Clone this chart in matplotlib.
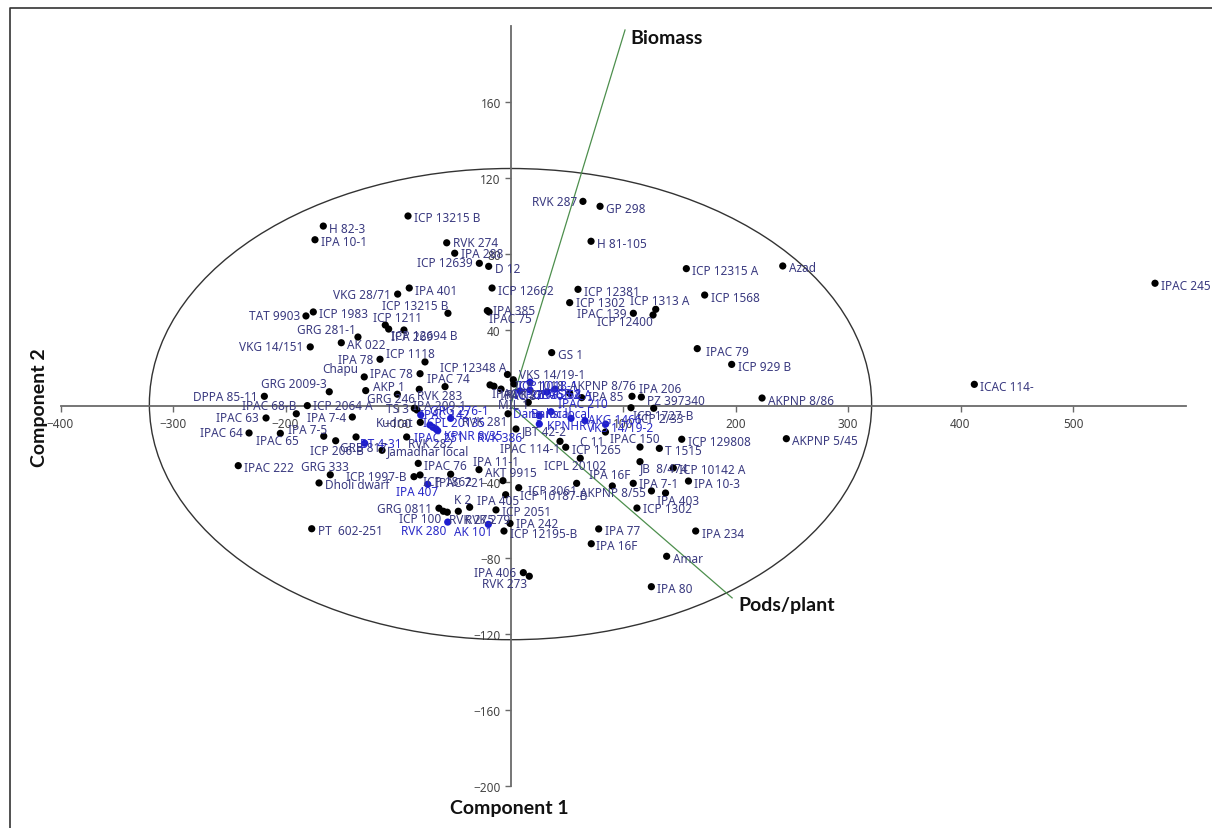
#!/usr/bin/env python3

import collections

import matplotlib
matplotlib.use('Agg')
import matplotlib.pyplot as plt
from matplotlib.lines import Line2D
from matplotlib.patches import Ellipse

names = ['H 82-3', 'IPA 10-1', 'ICP 13215 B', 'RVK 274', 'IPA 288', 'ICP 12639', 'D 12', 'ICP 12662',
         'IPA 401', 'VKG 28/71', 'ICP 13215 B', 'IPA 385', 'IPAC 75', 'TAT 9903', 'ICP 1983', 'ICP 1211',
         'IPA 269', 'ICP 12694 B', 'GRG 281-1', 'AK 022', 'VKG 14/151', 'IPA 78', 'ICP 1118', 'Chapu',
         'IPAC 78', 'ICP 12348 A', 'IPAC 74', 'GRG 2009-3', 'AKP 1', 'GRG 246', 'RVK 283', 'DPPA 85-11',
         'IPAC 68-B', 'ICP 2064 A', 'IPAC 63', 'IPAC 64', 'IPAC 65', 'IPA 7-4', 'IPA 7-5', 'ICP 206-B',
         'GRB 817', 'BT 4-31', 'Jamadhar local', 'RVK 282', 'IPAC 251', 'KPNR 8/35', 'RVK 386', 'Kudrat',
         'ICPL 20135', 'RVK 281', 'TS 3', 'IPA 209-1', 'GRG 276-1', 'IPAC 142', 'IPAC 222', 'GRG 333',
         'Dholi dwarf', 'IPAC 76', 'ICP 1997-B', 'ICP 1862', 'IPA 407', 'IPAC 721', 'IPA 11-1', 'AKT 9915',
         'GRG 0811', 'ICP 100', 'RVK 275', 'RVK 280', 'K 2', 'IPA 405', 'ICP 2051', 'RVK 279',
         'AK 101', 'IPA 242', 'ICP 12195-B', 'PT  602-251', 'IPA 406', 'RVK 273', 'IPA 77', 'IPA 16F',
         'IPA 16F', 'Amar', 'IPA 80', 'IPA 234', 'ICP 1302', 'IPA 403', 'AKPNP 8/55', 'IPA 7-1',
         'IPA 10-3', 'ICP 3061', 'ICP 10187-B', 'ICPL 20102', 'ICP 1265', 'IPAC 114-1', 'C 11', 'IPAC 150',
         'T 1515', 'ICP 129808', 'JB  8/474', 'ICP 10142 A', 'JBT 42-2', 'ICP 1727-B', 'PZ 397340', 'IPA 206',
         'ICP 2/33', 'IPA 85', 'AKPNP 8/76', 'AKPNP 8/86', 'AKPNP 5/45', 'VKS 14/19-1', 'IPAC 210', 'ICP 1018',
         'IPAC 13', 'IPAC 87', 'RVK 26', 'GRG 262 A', 'ICP 2376', 'IPAC 52', 'ICP 1018-1', 'TSR 8',
         'MIL 1', 'Dang local', 'KPNHR 1', 'Bansi local', 'AKG 1466', 'VKS 14/19-2', 'RVK 287', 'GP 298',
         'H 81-105', 'ICP 12315 A', 'Azad', 'ICP 12381', 'ICP 1302', 'ICP 1313 A', 'ICP 12400', 'IPAC 139',
         'ICP 1568', 'GS 1', 'IPAC 79', 'ICP 929 B', 'ICAC 114-', 'IPAC 245']

comp1 = [-166.4, -173.8, -91.1, -56.7, -49.6, -27.7, -19.4, -16.4,
         -90.0, -100.3, -55.6, -20.6, -19.1, -181.8, -175.3, -111.3,
         -108.3, -94.7, -135.6, -150.4, -178.0, -116.0, -76.0, -130.0,
         -80.4, -2.7, -58.2, -161.1, -128.7, -100.6, -81.1, -218.8,
         -190.4, -180.6, -217.3, -232.4, -204.6, -140.6, -166.0, -155.4,
         -137.3, -129.6, -114.2, -92.3, -64.7, -68.9, -66.2, -80.2,
         -71.6, -2.2, -85.5, -83.1, -53.2, -79.8, -242.0, -160.2,
         -170.2, -82.0, -85.8, -80.4, -73.6, -53.2, -28.0, -6.7,
         -63.6, -59.7, -56.2, -55.8, -36.3, -4.3, -12.9, -46.4,
         -19.7, -0.4, -5.8, -176.7, 11.4, 16.7, 78.4, 90.5,
         71.8, 138.8, 125.2, 164.6, 112.4, 137.8, 125.3, 109.1,
         158.2, 58.8, 7.3, 62.0, 49.1, 44.0, 84.4, 115.1,
         132.3, 152.2, 115.1, 144.7, 4.9, 107.1, 127.3, 116.3,
         108.0, 63.3, 52.6, 223.6, 245.2, 3.1, 36.0, 2.5,
         -18.2, -14.7, -8.4, 17.3, 8.4, 32.4, 17.3, 39.6,
         15.8, 25.6, 25.6, 53.8, 66.2, 84.6, 64.4, 79.6,
         71.6, 156.3, 242.0, 60.0, 52.6, 129.1, 126.7, 109.2,
         172.6, 36.6, 166.0, 196.6, 412.3, 572.9]

comp2 = [94.7, 87.5, 100.0, 85.9, 80.4, 75.1, 73.5, 62.1,
         62.1, 58.9, 48.8, 50.2, 49.5, 47.4, 49.5, 42.6,
         40.5, 40.0, 36.3, 33.3, 31.1, 24.6, 23.2, 15.3,
         17.0, 16.6, 10.2, 7.5, 8.1, 6.2, 8.8, 5.1,
         -4.1, 0.2, -6.3, -14.2, -14.4, -5.8, -15.9, -18.3,
         -16.3, -19.6, -23.3, -16.3, -13.0, -11.2, -12.1, -8.6,
         -10.0, -4.1, -1.2, -2.1, -6.5, -4.7, -31.4, -36.2,
         -40.5, -30.2, -37.2, -36.3, -41.2, -35.9, -33.5, -39.3,
         -53.8, -55.4, -55.9, -61.1, -53.3, -46.7, -54.7, -55.4,
         -62.3, -61.8, -65.8, -64.6, -87.7, -89.6, -64.7, -42.1,
         -72.5, -79.1, -95.1, -65.8, -53.7, -45.8, -44.7, -40.7,
         -39.5, -40.7, -43.0, -27.5, -21.7, -18.6, -13.7, -21.6,
         -22.3, -17.5, -29.3, -32.6, -12.1, -0.9, -1.2, 4.7,
         5.1, 4.4, 6.7, 4.2, -17.2, 11.6, -3.0, 13.8,
         11.1, 10.4, 8.9, 8.4, 7.9, 7.4, 12.6, 8.9,
         1.9, -5.1, -9.5, -6.5, -7.7, -9.5, 107.7, 105.1,
         86.7, 72.3, 73.7, 61.4, 54.4, 50.9, 47.9, 48.8,
         58.4, 28.1, 30.2, 21.9, 11.4, 64.6]

# genotypes picked out in the bright blue of the selection
blue_names = ['IPAC 251', 'KPNR 8/35', 'RVK 386', 'ICPL 20135', 'GRG 276-1', 'IPAC 142', 'IPA 407', 'RVK 280',
              'AK 101', 'GRG 262 A', 'ICP 2376', 'IPAC 52', 'ICP 1018-1', 'TSR 8', 'IPAC 210', 'Dang local',
              'KPNHR 1', 'Bansi local', 'AKG 1466', 'VKS 14/19-2', 'BT 4-31']

# loading vectors, drawn from the origin
loading_names = ['Biomass', 'Pods/plant']
loading_c1 = [101.8, 197.0]
loading_c2 = [197.9, -101.0]

x_ticks = [-400, -300, -200, -100, 100, 200, 300, 400, 500]
y_ticks = [-200, -160, -120, -80, -40, 40, 80, 120, 160]

# label placement in pixels from the dot: dx, dy, side of the text anchor
DEFAULT_PLACE = (6, -2, 'left')
PLACES = {
    'ICP 12639': (-7, 1, 'right'), 'VKG 28/71': (-7, 0, 'right'), 'ICP 13215 B#2': (0, 8, 'right'),
    'TAT 9903': (-6, 0, 'right'), 'ICP 1211': (-12, 8, 'left'), 'IPA 269': (2, -7, 'left'),
    'ICP 12694 B': (-13, -6, 'left'), 'GRG 281-1': (-2, 8, 'right'), 'VKG 14/151': (-7, 0, 'right'),
    'IPA 78': (-7, 0, 'right'), 'ICP 1118': (-39, 8, 'left'), 'Chapu': (-6, 8, 'right'),
    'IPAC 78': (-7, 0, 'right'), 'ICP 12348 A': (-1, 7, 'right'), 'IPAC 74': (-18, 8, 'left'),
    'GRG 2009-3': (-3, 8, 'right'), 'AKP 1': (7, 4, 'left'), 'GRG 246': (-30, -4, 'left'),
    'RVK 283': (-2, -6, 'left'), 'DPPA 85-11': (-7, 0, 'right'), 'IPAC 68-B': (0, 8, 'right'),
    'ICP 2064 A': (6, 0, 'left'), 'IPAC 63': (-7, 0, 'right'), 'IPAC 64': (-6, 0, 'right'),
    'IPAC 65': (-24, -7, 'left'), 'IPA 7-4': (-6, 0, 'right'), 'IPA 7-5': (-36, 7, 'left'),
    'ICP 206-B': (-26, -10, 'left'), 'GRB 817': (-16, -11, 'left'), 'BT 4-31': (-5, 0, 'left'),
    'Jamadhar local': (5, 0, 'left'), 'RVK 282': (1, -7, 'left'), 'IPAC 251': (-24, -7, 'left'),
    'KPNR 8/35': (11, -8, 'left'), 'RVK 386': (41, -9, 'left'), 'Kudrat': (-7, 0, 'right'),
    'ICPL 20135': (-7, 2, 'left'), 'RVK 281': (-1, -8, 'right'), 'TS 3': (-5, 0, 'right'),
    'IPA 209-1': (-4, 4, 'left'), 'GRG 276-1': (-21, 8, 'left'), 'IPAC 142': (-1, 0, 'left'),
    'GRG 333': (-29, 8, 'left'),
    'ICP 1997-B': (-7, 0, 'right'), 'ICP 1862': (3, -7, 'left'), 'IPA 407': (-32, -7, 'left'),
    'IPAC 721': (-16, -8, 'left'), 'IPA 11-1': (-6, 8, 'left'), 'AKT 9915': (-18, 8, 'left'),
    'GRG 0811': (-7, 0, 'right'), 'ICP 100': (-2, -7, 'right'), 'RVK 275': (2, -7, 'left'),
    'RVK 280': (-1, -8, 'right'), 'K 2': (2, 8, 'right'), 'IPA 405': (-29, -6, 'left'),
    'RVK 279': (7, -8, 'left'), 'AK 101': (4, -7, 'right'), 'IPA 242': (6, 0, 'left'),
    'IPA 406': (-7, 0, 'right'), 'RVK 273': (-2, -7, 'right'), 'IPA 16F': (-23, 11, 'left'),
    'IPA 403': (-9, -7, 'left'), 'AKPNP 8/55': (-6, -2, 'right'), 'IPA 7-1': (6, 0, 'left'),
    'ICP 3061': (0, -7, 'right'), 'ICP 10187-B': (1, -8, 'left'), 'ICPL 20102': (-36, -7, 'left'),
    'IPAC 114-1': (0, -7, 'right'), 'C 11': (-25, -9, 'left'), 'IPAC 150': (-30, 9, 'left'),
    'JB  8/474': (0, -6, 'left'), 'ICP 1727-B': (2, -8, 'left'), 'PZ 397340': (-7, 8, 'left'),
    'IPA 206': (-2, 9, 'left'), 'ICP 2/33': (5, -22, 'left'), 'IPA 85': (6, 1, 'left'),
    'AKPNP 8/76': (0, 8, 'left'), 'VKS 14/19-1': (5, 9, 'left'), 'IPAC 210': (7, 8, 'left'),
    'ICP 1018': (2, -6, 'left'), 'IPAC 13': (2, -9, 'left'), 'IPAC 87': (6, -9, 'left'),
    'RVK 26': (5, -5, 'left'), 'GRG 262 A': (3, -4, 'left'), 'ICP 2376': (-6, -4, 'left'),
    'IPAC 52': (-10, -3, 'left'), 'ICP 1018-1': (-12, -3, 'left'), 'TSR 8': (-4, -4, 'left'),
    'MIL 1': (-30, -2, 'left'), 'Dang local': (-26, 2, 'left'), 'KPNHR 1': (8, -1, 'left'),
    'Bansi local': (-40, 5, 'left'), 'AKG 1466': (3, 1, 'left'), 'VKS 14/19-2': (-19, -3, 'left'),
    'RVK 287': (-6, 0, 'right'), 'ICP 1302': (6, 0, 'left'), 'ICP 1313 A': (-26, 9, 'left'),
    'ICP 12400': (0, -7, 'right'), 'IPAC 139': (-7, 0, 'right'), 'IPAC 79': (9, -3, 'left'),
    'RVK 274': (6, 0, 'left'), 'IPA 288': (6, 0, 'left'), 'IPA 385': (6, 0, 'left'),
    'IPAC 75': (0, -7, 'left'), 'IPA 16F#2': (5, -2, 'left'), 'ICP 1302#2': (6, 0, 'left'),
}

INK = '#3a3a80'
BRIGHT = '#2a2ac8'


def main():

    plt.rcParams['font.family'] = ['Noto Sans', 'DejaVu Sans']

    fig = plt.figure(figsize=(12.12, 8.29), dpi=100, facecolor='white')
    ax = fig.add_axes([0, 0, 1, 1])

    # 1.125 px per unit across, 1.9 px per unit up, origin at (510.5, 407)
    ax.set_xlim(-510.5 / 1.125, (1212 - 510.5) / 1.125)
    ax.set_ylim(-(829 - 407) / 1.9, 407 / 1.9)
    ax.patch.set_visible(False)

    for side in ['top', 'right']:
        ax.spines[side].set_visible(False)
    ax.spines['left'].set_position(('data', 0))
    ax.spines['bottom'].set_position(('data', 0))
    ax.spines['left'].set_bounds(-200, 200)
    ax.spines['bottom'].set_bounds(-400, 600)
    for side in ['left', 'bottom']:
        ax.spines[side].set_color('#6a6a6a')
        ax.spines[side].set_linewidth(1.3)

    ax.set_xticks(x_ticks)
    ax.set_yticks(y_ticks)
    ax.tick_params(axis='both', length=4, width=1, color='#6a6a6a',
                   labelsize=8.5, labelcolor='#444444')
    ax.tick_params(axis='x', pad=4)
    ax.tick_params(axis='y', pad=3)

    ax.add_patch(Ellipse((0, 1), 642, 248, fill=False, ec='#333333', lw=1.0, zorder=2))

    for name, c1, c2 in zip(loading_names, loading_c1, loading_c2):
        ax.plot([0, c1], [0, c2], color='#4d8f4d', lw=0.9, zorder=2)

    dot_colors = ['#1c1cd0' if n in blue_names else 'black' for n in names]
    ax.scatter(comp1, comp2, s=27, c=dot_colors, linewidths=0, zorder=3)

    seen = collections.Counter()
    for name, c1, c2 in zip(names, comp1, comp2):
        seen[name] += 1
        key = name if seen[name] == 1 else '%s#%d' % (name, seen[name])
        dx, dy, side = PLACES.get(key, DEFAULT_PLACE)
        ax.annotate(name, (c1, c2), xytext=(dx, dy), textcoords='offset pixels',
                    ha=side, va='center', fontsize=8.5,
                    color=BRIGHT if name in blue_names else INK, zorder=4)

    # bold captions placed by hand beside the vectors and axes
    bold = dict(family=['Lato', 'DejaVu Sans'], fontweight='bold', fontsize=14, color='#111111')
    fig.text(630 / 1212, 1 - 38 / 829, 'Biomass', ha='left', va='center', **bold)
    fig.text(738 / 1212, 1 - 606 / 829, 'Pods/plant', ha='left', va='center', **bold)
    fig.text(509 / 1212, 1 - 809 / 829, 'Component 1', ha='center', va='center', **bold)
    fig.text(39 / 1212, 1 - 408 / 829, 'Component 2', rotation=90, ha='center', va='center', **bold)

    # picture frame, left and top only
    fig.add_artist(Line2D([10 / 1212, 10 / 1212, 1], [0, 1 - 9 / 829, 1 - 9 / 829],
                          color='#333333', lw=1.2))

    fig.savefig('out.png', dpi=100, facecolor='white')


if __name__ == '__main__':
    main()
